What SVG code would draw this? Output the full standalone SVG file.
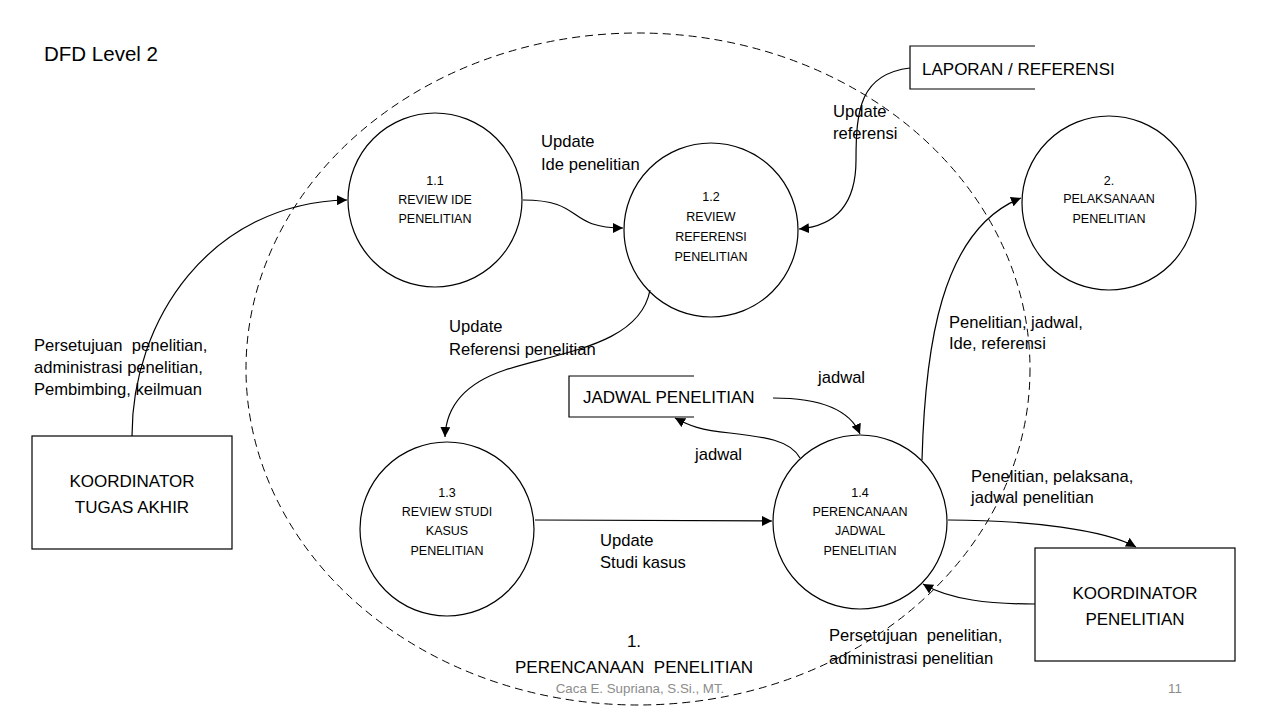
<svg xmlns="http://www.w3.org/2000/svg" width="1280" height="720" viewBox="0 0 1280 720">
<defs>
<marker id="arr" viewBox="0 0 10 10" refX="10" refY="5" markerWidth="10" markerHeight="10" markerUnits="userSpaceOnUse" orient="auto">
<path d="M0,0 L10,5 L0,10 z" fill="#000"/>
</marker>
</defs>
<style>
text{font-family:"Liberation Sans",Arial,sans-serif;fill:#000}
.lbl{font-size:16.6px}
.big{font-size:17px}
.proc{font-size:12.5px;text-anchor:middle}
.foot{font-size:13.3px;fill:#8c8c8c}
.shape{fill:#fff;stroke:#000;stroke-width:1.2}
.store{fill:none;stroke:#000;stroke-width:1.2}
.conn path{fill:none;stroke:#000;stroke-width:1.2;marker-end:url(#arr)}
</style>
<rect width="1280" height="720" fill="#fff"/>
<text x="44" y="61" style="font-size:20.5px">DFD Level 2</text>
<ellipse id="boundary" cx="638" cy="369" rx="392" ry="336" fill="none" stroke="#000" stroke-width="1" stroke-dasharray="8,5"/>

<g id="p11"><circle class="shape" cx="435" cy="200" r="87"/>
<text class="proc" x="435" y="185">1.1</text><text class="proc" x="435" y="204">REVIEW IDE</text><text class="proc" x="435" y="223">PENELITIAN</text></g>
<g id="p12"><circle class="shape" cx="711" cy="230" r="87"/>
<text class="proc" x="711" y="201">1.2</text><text class="proc" x="711" y="221">REVIEW</text><text class="proc" x="711" y="241">REFERENSI</text><text class="proc" x="711" y="261">PENELITIAN</text></g>
<g id="p13"><circle class="shape" cx="447" cy="529" r="87"/>
<text class="proc" x="447" y="497">1.3</text><text class="proc" x="447" y="516">REVIEW STUDI</text><text class="proc" x="447" y="535">KASUS</text><text class="proc" x="447" y="555">PENELITIAN</text></g>
<g id="p14"><circle class="shape" cx="860" cy="522" r="87"/>
<text class="proc" x="860" y="497">1.4</text><text class="proc" x="860" y="516">PERENCANAAN</text><text class="proc" x="860" y="535">JADWAL</text><text class="proc" x="860" y="555">PENELITIAN</text></g>
<g id="p2"><circle class="shape" cx="1109" cy="203" r="87"/>
<text class="proc" x="1109" y="185">2.</text><text class="proc" x="1109" y="203">PELAKSANAAN</text><text class="proc" x="1109" y="223">PENELITIAN</text></g>

<g id="e_kta"><rect class="shape" x="32" y="436" width="200" height="113"/>
<text class="big" x="132" y="487" text-anchor="middle">KOORDINATOR</text><text class="big" x="132" y="513" text-anchor="middle">TUGAS AKHIR</text></g>
<g id="e_kp"><rect class="shape" x="1035" y="548" width="200" height="113"/>
<text class="big" x="1135" y="599" text-anchor="middle">KOORDINATOR</text><text class="big" x="1135" y="625" text-anchor="middle">PENELITIAN</text></g>

<g id="ds_lap"><path class="store" d="M1035,46 H910 V89 H1035"/>
<text class="big" x="922" y="75">LAPORAN / REFERENSI</text></g>
<g id="ds_jad"><path class="store" d="M694,376 H569 V417 H694"/>
<text class="big" x="583" y="403">JADWAL PENELITIAN</text></g>

<g class="conn">
<path d="M132,436 C132,320 210,203 347,200"/>
<path d="M523,200 C585,200 565,228 623,228"/>
<path d="M910,68 C860,74 856,110 856,160 C856,205 835,226 799,229"/>
<path d="M650,290 C640,345 560,352 505,370 C460,385 446,410 445,437"/>
<path d="M773,398 C820,398 850,410 860,434"/>
<path d="M800,458 C790,440 765,437 730,433 C700,430 690,426 675,418"/>
<path d="M535,520 L772,521"/>
<path d="M922,460 C925,350 940,230 1021,198"/>
<path d="M948,520 C1030,520 1105,530 1136,547"/>
<path d="M1035,604 C990,604 950,600 923,584"/>
</g>

<g id="labels" class="lbl">
<text x="541" y="147">Update</text><text x="541" y="170">Ide penelitian</text>
<text x="833" y="117">Update</text><text x="833" y="139">referensi</text>
<text x="449" y="332">Update</text><text x="449" y="355">Referensi penelitian</text>
<text x="34" y="351">Persetujuan&#160; penelitian,</text><text x="34" y="373">administrasi penelitian,</text><text x="34" y="395">Pembimbing, keilmuan</text>
<text x="949" y="328">Penelitian, jadwal,</text><text x="949" y="349">Ide, referensi</text>
<text x="818" y="383">jadwal</text>
<text x="695" y="460">jadwal</text>
<text x="971" y="482">Penelitian, pelaksana,</text><text x="971" y="503">jadwal penelitian</text>
<text x="600" y="546">Update</text><text x="600" y="568">Studi kasus</text>
<text x="829" y="641">Persetujuan&#160; penelitian,</text><text x="829" y="664">administrasi penelitian</text>
</g>
<text class="big" x="634" y="647" text-anchor="middle">1.</text>
<text class="big" x="634" y="673" text-anchor="middle">PERENCANAAN&#160; PENELITIAN</text>
<text class="foot" x="640" y="693" text-anchor="middle">Caca E. Supriana, S.Si., MT.</text>
<text class="foot" x="1168" y="693">11</text>
</svg>
